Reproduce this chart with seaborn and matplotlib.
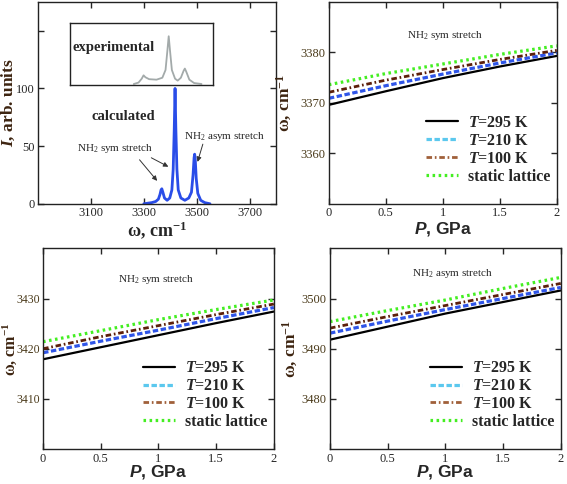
import numpy as np
import pandas as pd
import matplotlib
matplotlib.use("Agg")
import matplotlib.pyplot as plt
import seaborn as sns

# calculated spectrum (panel a)
omega_calc = [3300, 3330, 3345, 3355, 3361, 3365, 3368, 3372, 3378, 3388, 3398, 3406, 3411, 3415, 3418,
              3421, 3425, 3430, 3440, 3455, 3470, 3480, 3486, 3490, 3492, 3494, 3498, 3504, 3515, 3530, 3550]
int_calc = [0, 1, 2, 4, 8, 12, 13, 10, 5, 3, 5, 12, 30, 65, 100,
            65, 30, 12, 5, 3, 5, 10, 25, 40, 43, 40, 22, 9, 3, 1, 0]

# experimental spectrum (inset), relative units
omega_exp = [3262, 3280, 3292, 3299, 3306, 3320, 3348, 3370, 3382, 3389, 3394, 3399, 3406,
             3418, 3428, 3440, 3450, 3455, 3460, 3472, 3490, 3518]
int_exp = [1, 4, 12, 19, 15, 11, 10, 14, 30, 70, 100, 70, 30, 12, 8, 14, 28, 33, 27, 10, 3, 1]

# pressure dependence
pressure = [0, 0.5, 1, 1.5, 2]
series_names = ["T295", "T210", "T100", "static"]
legend_labels = [r"$\mathit{T}$=295 K", r"$\mathit{T}$=210 K", r"$\mathit{T}$=100 K", "static lattice"]

sym1_T295 = [3369.6, 3372.3, 3374.9, 3377.2, 3379.3]
sym1_T210 = [3370.9, 3373.4, 3375.7, 3377.9, 3379.9]
sym1_T100 = [3372.1, 3374.5, 3376.6, 3378.6, 3380.4]
sym1_static = [3373.6, 3375.8, 3377.7, 3379.6, 3381.3]

sym2_T295 = [3417.9, 3420.3, 3422.7, 3425.1, 3427.4]
sym2_T210 = [3419.2, 3421.5, 3423.7, 3426.0, 3428.2]
sym2_T100 = [3420.0, 3422.4, 3424.6, 3426.8, 3428.9]
sym2_static = [3421.4, 3423.6, 3425.8, 3427.8, 3429.7]

asym_T295 = [3491.8, 3494.4, 3497.0, 3499.3, 3501.6]
asym_T210 = [3493.1, 3495.5, 3497.8, 3500.0, 3502.2]
asym_T100 = [3494.1, 3496.4, 3498.6, 3500.8, 3503.0]
asym_static = [3495.4, 3497.6, 3499.7, 3502.0, 3504.2]

sns.set_style("ticks")
plt.rcParams["font.family"] = ["Liberation Serif", "DejaVu Serif"]
plt.rcParams["mathtext.fontset"] = "custom"
plt.rcParams["mathtext.rm"] = "Liberation Serif"
plt.rcParams["mathtext.it"] = "Liberation Serif:italic:bold"
plt.rcParams["mathtext.bf"] = "Liberation Serif:bold"
plt.rcParams["mathtext.sf"] = "Liberation Sans:italic:bold"
plt.rcParams["xtick.direction"] = "in"
plt.rcParams["ytick.direction"] = "in"

label_col = "#3d2410"
tick_col = "#4a3a1a"

line_styles = {
    "T295": dict(color="black", lw=1.6, ls="-"),
    "T210": dict(color="#2f55e8", lw=2.3, ls=(0, (1.7, 0.8))),
    "T100": dict(color="#5c1f0a", lw=2.0, ls=(0, (2.0, 1.0, 0.6, 1.0))),
    "static": dict(color="#44ee22", lw=2.3, ls=(0, (0.8, 1.1))),
}
legend_colors = {"T295": "black", "T210": "#5bc8ee", "T100": "#a0603a", "static": "#44ee22"}

fig = plt.figure(figsize=(5.67, 4.84), dpi=100)
ax1 = fig.add_axes([0.067, 0.579, 0.420, 0.417])
ax2 = fig.add_axes([0.580, 0.579, 0.402, 0.417])
ax3 = fig.add_axes([0.076, 0.072, 0.407, 0.415])
ax4 = fig.add_axes([0.582, 0.072, 0.407, 0.415])

for ax in [ax1, ax2, ax3, ax4]:
    for sp in ax.spines.values():
        sp.set_color("#222222")
        sp.set_linewidth(1.0)
    ax.tick_params(top=True, right=True, length=4, width=1, labelsize=9, pad=2.5)
ax3.tick_params(axis="y", labelsize=8.5, pad=2)

# panel a: spectrum
sns.lineplot(x=omega_calc, y=int_calc, ax=ax1, color="#2a4de8", lw=2.0)
ax1.set_xlim(2900, 3800)
ax1.set_ylim(0, 175)
ax1.set_xticks([3100, 3300, 3500, 3700])
ax1.set_yticks([0, 50, 100, 150])
ax1.set_yticklabels(["0", "50", "100", ""])
ax1.set_xlabel(r"ω, cm$^{\mathbf{-1}}$", fontsize=13, fontweight="bold")
ax1.set_ylabel(r"$I$, arb. units", fontsize=12.5, fontweight="bold", color=label_col)
ax1.xaxis.set_label_coords(0.5, -0.075)
ax1.yaxis.set_label_coords(-0.088, 0.5)
ax1.text(3223, 76, "calculated", fontsize=10.5, fontweight="bold", ha="center", va="center")
ax1.text(3192, 48, r"NH$_2$ sym stretch", fontsize=8, ha="center", va="center")
ax1.text(3604, 58, r"NH$_2$ asym stretch", fontsize=8, ha="center", va="center")
arr = dict(arrowstyle="-|>", color="#333333", lw=0.7, mutation_scale=7)
ax1.annotate("", xy=(3357, 18), xytext=(3277, 40), arrowprops=arr)
ax1.annotate("", xy=(3402, 31), xytext=(3319, 41), arrowprops=arr)
ax1.annotate("", xy=(3500, 34), xytext=(3526, 54), arrowprops=arr)

ins = ax1.inset_axes([3020, 103, 540, 54], transform=ax1.transData)
sns.lineplot(x=omega_exp, y=int_exp, ax=ins, color="#a3aaaa", lw=1.3)
ins.set_xlim(3020, 3560)
ins.set_ylim(-1, 128)
ins.set_xticks([])
ins.set_yticks([])
for sp in ins.spines.values():
    sp.set_color("#222222")
    sp.set_linewidth(1.0)
ins.text(0.02, 0.6, "experimental", transform=ins.transAxes, fontsize=10.5,
         fontweight="bold", ha="left", va="center")

# pressure panels
panels = [
    (ax2, [sym1_T295, sym1_T210, sym1_T100, sym1_static], (3350, 3390), [3360, 3370, 3380],
     r"NH$_2$ sym stretch", (0.51, 0.835), (-0.155, -0.08), 12.5),
    (ax3, [sym2_T295, sym2_T210, sym2_T100, sym2_static], (3400, 3440), [3410, 3420, 3430],
     r"NH$_2$ sym stretch", (0.49, 0.846), (-0.105, -0.07), 11.5),
    (ax4, [asym_T295, asym_T210, asym_T100, asym_static], (3470, 3510), [3480, 3490, 3500],
     r"NH$_2$ asym stretch", (0.53, 0.876), (-0.13, -0.07), 12.5),
]

for ax, vals, ylim, yt, title, tpos, lpos, lsize in panels:
    for name, lab, v in zip(series_names, legend_labels, vals):
        st = line_styles[name]
        sns.lineplot(x=pressure, y=v, ax=ax, color=st["color"], lw=st["lw"],
                     linestyle=st["ls"], label=lab)
    ax.set_xlim(0, 2)
    ax.set_ylim(*ylim)
    ax.set_xticks([0, 0.5, 1, 1.5, 2])
    ax.set_xticklabels(["0", "0.5", "1", "1.5", "2"])
    ax.set_yticks(yt)
    ax.tick_params(axis="y", labelcolor=tick_col)
    ax.set_xlabel(r"$\mathsf{P}$, GPa", fontsize=12.5, fontweight="bold", fontfamily="Liberation Sans")
    ax.set_ylabel(r"ω, cm$^{\mathbf{-1}}$", fontsize=lsize, fontweight="bold", color=label_col)
    ax.yaxis.set_label_coords(lpos[0], 0.5)
    ax.xaxis.set_label_coords(0.5, lpos[1])
    ax.text(tpos[0], tpos[1], title, transform=ax.transAxes, fontsize=8, ha="center", va="center")
    leg = ax.legend(loc="lower right", bbox_to_anchor=(1.02, 0.04), frameon=False,
                    prop=dict(family="Liberation Serif", weight="bold", size=11.5),
                    handlelength=2.0, handletextpad=0.6, labelspacing=0.12, borderpad=0.2)
    for h, name in zip(leg.get_lines(), series_names):
        h.set_color(legend_colors[name])

fig.savefig("out.png", dpi=100)
